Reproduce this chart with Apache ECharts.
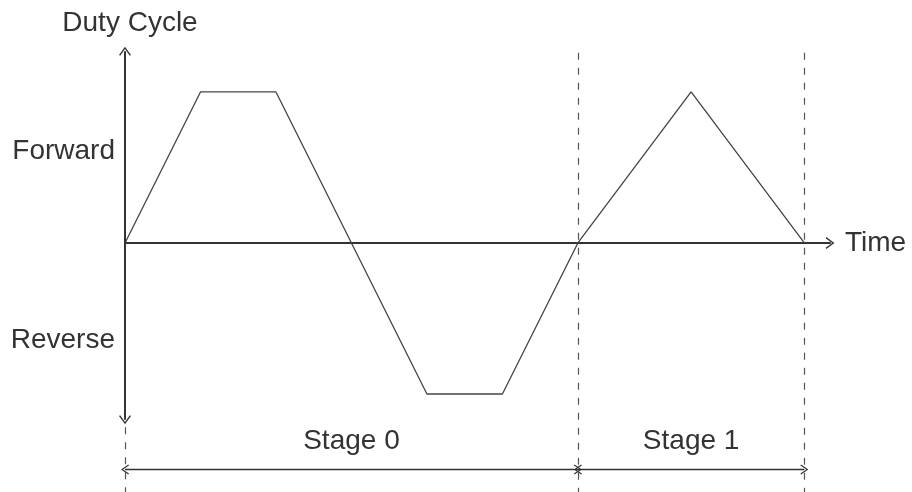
<!DOCTYPE html>
<html>
<head>
<meta charset="utf-8">
<script src="https://cdn.jsdelivr.net/npm/echarts@6/dist/echarts.min.js"></script>
<style>
  html, body { margin: 0; padding: 0; background: #fff; }
  #chart { width: 912px; height: 492px; }
</style>
</head>
<body>
<div id="chart"></div>
<script>
// 时间点与占空比（正 = Forward，负 = Reverse）
var times = [0, 1, 2, 4, 5, 6, 7.5, 9];
var duty = [0, 1, 1, -1, -1, 0, 1, 0];
// 阶段边界与名称
var stageBounds = [0, 6, 9];
var stageNames = ["Stage 0", "Stage 1"];
// 纵轴文字
var yLabelValues = [0.61, -0.645];
var yLabelTexts = ["Forward", "Reverse"];

var ink = "#333";
var font = "Liberation Sans, Arial, sans-serif";
var yMin = -1.649;
var yMax = 1.609;
// 空心箭头
var chevron = "path://M0,8 L6,0 L12,8 L10.8,8.8 L6,2.2 L1.2,8.8 Z";

var points = [];
for (var i = 0; i < times.length; i++) {
  points.push([times[i], duty[i]]);
}

var dashStyle = { type: [7, 8], width: 1.2, color: "#555" };
var marks = [];
// y 轴（两端箭头）
marks.push([
  { coord: [0, -1.17], symbol: chevron, symbolSize: [12, 9], lineStyle: { type: "solid", width: 2, color: ink } },
  { coord: [0, 1.27], symbol: chevron, symbolSize: [12, 9] },
]);
// 零点下方虚线
marks.push([
  { coord: [0, -1.22], symbol: "none", lineStyle: dashStyle },
  { coord: [0, yMin], symbol: "none" },
]);
// 阶段分隔虚线
for (var k = 1; k < stageBounds.length; k++) {
  marks.push([
    { coord: [stageBounds[k], 1.26], symbol: "none", lineStyle: dashStyle },
    { coord: [stageBounds[k], yMin], symbol: "none" },
  ]);
}
// 阶段尺寸线和名称
for (var s = 0; s < stageNames.length; s++) {
  marks.push([
    {
      coord: [stageBounds[s], -1.5],
      symbol: chevron,
      symbolSize: [10, 8],
      lineStyle: { type: "solid", width: 1.3, color: ink },
      label: {
        show: true,
        position: "insideMiddleTop",
        formatter: stageNames[s],
        distance: 14,
        color: ink,
        fontSize: 28,
        fontFamily: font,
      },
    },
    { coord: [stageBounds[s + 1], -1.5], symbol: chevron, symbolSize: [10, 8] },
  ]);
}

var option = {
  animation: false,
  title: {
    text: "Duty Cycle",
    left: 125,
    top: 4,
    textAlign: "center",
    textStyle: { color: ink, fontSize: 28, fontWeight: "normal", fontFamily: font },
  },
  grid: { left: 125, right: 82, top: 0, bottom: 0, containLabel: false },
  xAxis: {
    type: "value",
    min: 0,
    max: 9.34,
    name: "Time",
    nameLocation: "end",
    nameGap: 15,
    nameTextStyle: { color: ink, fontSize: 28, fontFamily: font, verticalAlign: "middle" },
    axisLine: {
      show: true,
      onZero: true,
      symbol: ["none", chevron],
      symbolSize: [12, 9],
      lineStyle: { color: ink, width: 2 },
    },
    axisTick: { show: false },
    axisLabel: { show: false },
    splitLine: { show: false },
  },
  yAxis: {
    type: "value",
    min: yMin,
    max: yMax,
    axisLine: { show: false },
    axisTick: { show: false },
    splitLine: { show: false },
    axisLabel: {
      show: true,
      customValues: yLabelValues,
      margin: 10,
      color: ink,
      fontSize: 28,
      fontFamily: font,
      formatter: function (v) {
        var idx = yLabelValues.indexOf(v);
        return idx >= 0 ? yLabelTexts[idx] : "";
      },
    },
  },
  series: [
    {
      type: "line",
      data: points,
      symbol: "none",
      lineStyle: { color: "#444", width: 1.3 },
      markLine: {
        silent: true,
        animation: false,
        label: { show: false },
        data: marks,
      },
      z: 3,
    },
  ],
};

var myChart = echarts.init(document.getElementById("chart"));
myChart.setOption(option);
window.addEventListener("resize", function () {
  myChart.resize();
});
</script>
</body>
</html>
